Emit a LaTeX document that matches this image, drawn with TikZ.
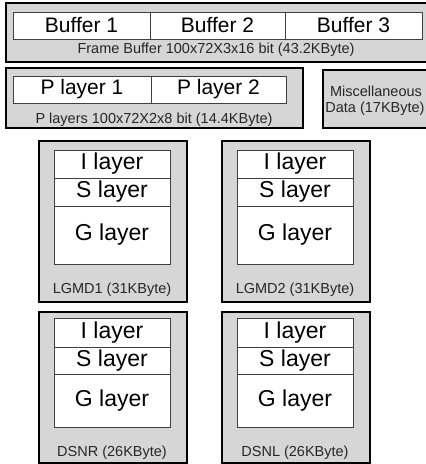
\documentclass[tikz,border=0pt]{standalone}
\usepackage{fontspec}
\setmainfont{Liberation Sans}
\begin{document}
\begin{tikzpicture}[x=1pt,y=-1pt,
  outerbox/.style={draw=black, fill=black!16, line width=1.6pt, inner sep=0pt},
  cell/.style={draw=black!75, fill=white, line width=0.8pt, inner sep=0pt},
  bigtxt/.style={font=\fontsize{21}{24}\selectfont},
  layertxt/.style={font=\fontsize{23}{26}\selectfont},
  captxt/.style={font=\fontsize{14.5}{17}\selectfont, text=black!85, inner sep=0pt}
]
\useasboundingbox (0,0) rectangle (426,464);

% frame buffer
\node[outerbox, minimum width=422, minimum height=59] (fb) at (217,32.5) {};
\node[cell, bigtxt, minimum width=137, minimum height=27] (b1) at (81.5,25.5) {Buffer 1};
\node[cell, bigtxt, minimum width=135, minimum height=27] (b2) at (217.5,25.5) {Buffer 2};
\node[cell, bigtxt, minimum width=137, minimum height=27] (b3) at (353.5,25.5) {Buffer 3};
\node[captxt] (fbcap) at (216,50) {Frame Buffer 100x72X3x16 bit (43.2KByte)};

% P layers
\node[outerbox, minimum width=297, minimum height=60] (pl) at (154.5,98) {};
\node[cell, bigtxt, minimum width=138, minimum height=27] (p1) at (82,89.5) {P layer 1};
\node[cell, bigtxt, minimum width=135, minimum height=27] (p2) at (218.5,89.5) {P layer 2};
\node[captxt] (plcap) at (154,120) {P layers 100x72X2x8 bit (14.4KByte)};

% miscellaneous data
\node[outerbox, minimum width=114, minimum height=58] (misc) at (380,99) {};
\node[captxt] (misc1) at (376,91) {Miscellaneous};
\node[captxt] (misc2) at (375,109) {Data (17KByte)};

% LGMD blocks
\foreach \cx/\ix/\nm/\lbl in {113/112/lgmdA/LGMD1 (31KByte), 296/295/lgmdB/LGMD2 (31KByte)} {
  \node[outerbox, minimum width=148, minimum height=161] (\nm) at (\cx,221.5) {};
  \node[cell, layertxt, minimum width=116, minimum height=28] (\nm-i) at (\ix,164) {I layer};
  \node[cell, layertxt, minimum width=116, minimum height=28] (\nm-s) at (\ix,192) {S layer};
  \node[cell, layertxt, minimum width=116, minimum height=58] (\nm-g) at (\ix,235) {G layer};
  \node[captxt] (\nm-cap) at (\ix,290) {\lbl};
}

% DSN blocks
\foreach \cx/\ix/\nm/\lbl in {113/112/dsnR/DSNR (26KByte), 296/295/dsnL/DSNL (26KByte)} {
  \node[outerbox, minimum width=148, minimum height=151] (\nm) at (\cx,387.5) {};
  \node[cell, layertxt, minimum width=116, minimum height=29] (\nm-i) at (\ix,332.5) {I layer};
  \node[cell, layertxt, minimum width=116, minimum height=27] (\nm-s) at (\ix,360.5) {S layer};
  \node[cell, layertxt, minimum width=116, minimum height=53] (\nm-g) at (\ix,400.5) {G layer};
  \node[captxt] (\nm-cap) at (\ix,453) {\lbl};
}
\end{tikzpicture}
\end{document}
